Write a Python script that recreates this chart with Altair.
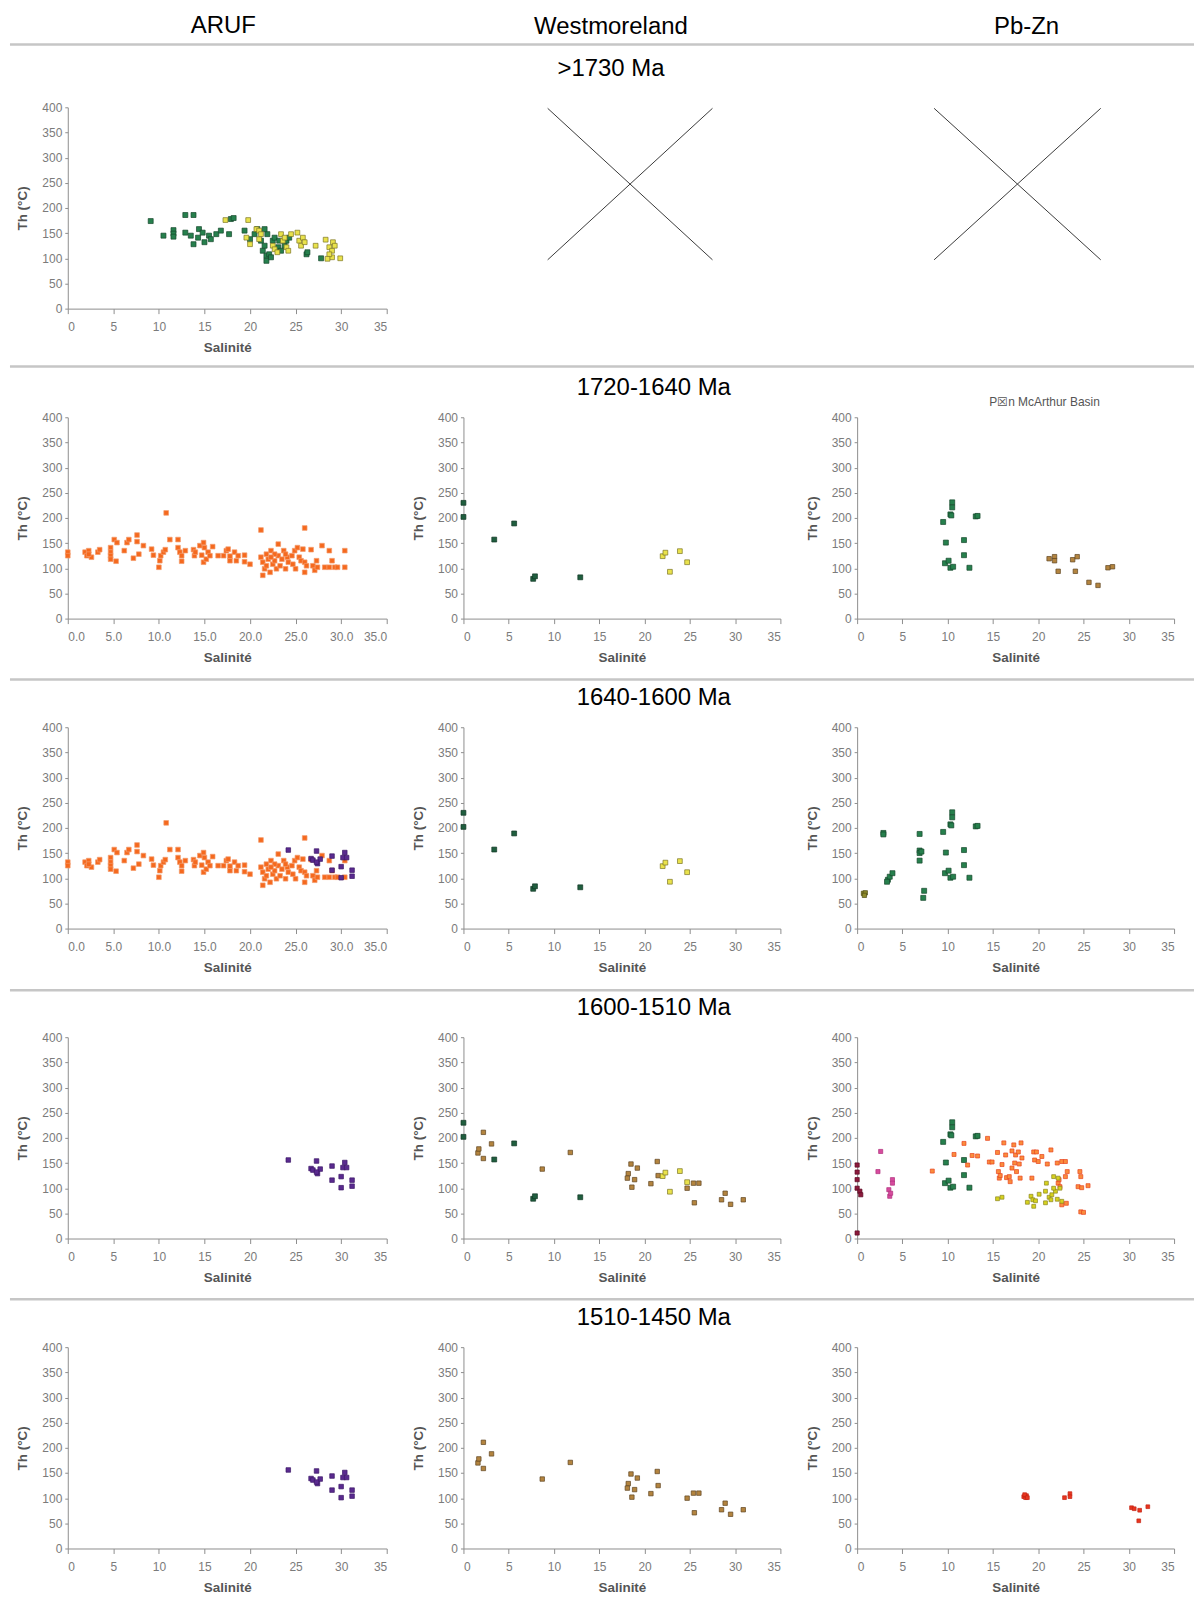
import altair as alt
import pandas as pd

# ---------------- data (Salinité, Th °C) ----------------
X_TICKS = [0, 5, 10, 15, 20, 25, 30, 35]
Y_TICKS = [0, 50, 100, 150, 200, 250, 300, 350, 400]

COLUMNS = ["ARUF", "Westmoreland", "Pb-Zn"]
ROWS = [">1730 Ma", "1720-1640 Ma", "1640-1600 Ma", "1600-1510 Ma", "1510-1450 Ma"]

# ARUF, >1730 Ma
ARUF_VERT_SAL = [9.1, 10.5, 11.6, 11.6, 11.6, 12.9, 12.9, 13.8, 13.5, 13.8, 14.3, 14.4, 14.8, 15.0, 15.5,
                 15.7, 16.3, 16.8, 17.7, 17.9, 18.2, 19.4, 20.0, 20.5, 20.8, 21.2, 21.4, 21.6, 21.8, 21.8,
                 22.1, 22.3, 22.5, 22.7, 23.1, 23.4, 23.8, 24.0, 24.3, 26.2, 26.3, 27.8, 21.9, 21.6, 23.2]
ARUF_VERT_TH = [174, 145, 156, 149, 143, 186, 151, 186, 145, 128, 141, 158, 151, 132, 145,
                138, 148, 155, 148, 178, 180, 155, 138, 148, 158, 135, 115, 125, 105, 95,
                108, 102, 135, 141, 122, 115, 125, 135, 141, 108, 112, 100, 148, 158, 135]
ARUF_JAUNE_SAL = [17.3, 19.8, 19.6, 20.0, 20.7, 21.0, 21.2, 21.0, 22.5, 22.7, 23.0, 23.4, 23.6, 23.8, 24.0,
                  24.2, 24.5, 25.2, 25.4, 25.6, 25.8, 26.0, 27.2, 28.3, 28.7, 29.0, 29.0, 29.1, 29.3, 28.7,
                  29.9, 28.5]
ARUF_JAUNE_TH = [176, 176, 141, 128, 158, 155, 148, 138, 125, 118, 112, 148, 135, 141, 122,
                 115, 148, 151, 135, 125, 141, 132, 125, 137, 122, 115, 102, 132, 125, 108,
                 100, 99]

# ARUF, 1720-1600 Ma
ARUF_ORANGE_SAL = [0.0, 0.0, 1.9, 2.1, 2.3, 2.6, 2.3, 3.3, 3.5, 4.7, 4.7, 4.7, 4.7, 5.1, 5.3, 5.4, 6.2, 6.5,
                   6.7, 7.2, 7.6, 7.6, 7.8, 8.3, 9.2, 9.4, 10.0, 10.1, 10.2, 10.5, 10.7, 10.8, 11.2, 12.1,
                   12.1, 12.3, 12.5, 12.5, 12.9, 13.8, 13.9, 14.0, 14.5, 14.7, 14.9, 14.9, 15.2, 15.0, 15.4,
                   15.6, 15.9, 16.5, 17.1, 17.4, 17.6, 17.8, 17.8, 18.3, 18.5, 18.7, 19.4, 19.4, 20.0, 21.2,
                   21.2, 21.4, 21.4, 21.6, 21.8, 22.0, 22.2, 22.3, 22.5, 22.7, 22.9, 23.1, 23.1, 23.3, 23.5,
                   23.7, 23.9, 24.1, 24.2, 24.6, 24.7, 24.9, 25.0, 25.2, 25.4, 25.6, 25.8, 26.0, 26.0, 26.0,
                   26.2, 26.7, 26.9, 27.1, 27.3, 27.4, 27.9, 28.2, 28.7, 28.7, 29.0, 29.3, 29.6, 30.4, 30.4,
                   21.8, 22.7, 23.9, 22.3]
ARUF_ORANGE_TH = [132, 125, 132, 125, 135, 122, 128, 132, 137, 141, 132, 125, 118, 157, 114, 151, 135, 151,
                  157, 120, 166, 153, 128, 145, 138, 126, 102, 115, 125, 132, 137, 210, 157, 157,
                  141, 132, 125, 114, 135, 137, 125, 132, 145, 126, 151, 112, 118, 141, 132,
                  125, 143, 125, 125, 135, 138, 115, 124, 132, 115, 125, 126, 113, 108, 176,
                  122, 86, 112, 99, 105, 118, 92, 135, 108, 115, 99, 148, 125, 105, 118,
                  135, 99, 122, 112, 125, 108, 135, 99, 141, 122, 115, 138, 180, 92, 112,
                  105, 137, 105, 96, 115, 102, 145, 102, 135, 102, 115, 102, 102, 135, 102,
                  128, 128, 128, 122]
ARUF_VIOLET_SAL = [24.2, 26.7, 26.9, 27.3, 27.4, 27.7, 27.3, 29.0, 29.0, 30.0, 30.0, 30.2, 30.4, 30.6, 31.2, 31.2]
ARUF_VIOLET_TH = [156, 139, 136, 154, 129, 138, 132, 144, 116, 123, 101, 141, 151, 141, 116, 104]

# Westmoreland
WM_VERT_SAL = [0.0, 0.0, 3.4, 5.6, 7.7, 7.9, 12.9]
WM_VERT_TH = [230, 202, 157, 189, 79, 84, 82]
WM_JAUNE_SAL = [22.0, 22.3, 22.8, 23.9, 24.7]
WM_JAUNE_TH = [124, 131, 93, 134, 112]
WM_BRUN_SAL = [1.6, 1.7, 2.2, 2.2, 3.1, 8.7, 11.8, 18.5, 18.2, 18.1, 18.9, 19.2, 18.6, 20.7, 21.5, 21.4,
               24.7, 25.4, 26.0, 25.5, 28.5, 28.9, 29.5, 30.9]
WM_BRUN_TH = [170, 178, 211, 159, 188, 138, 171, 148, 129, 120, 117, 140, 102, 109, 125, 153,
              100, 110, 110, 71, 77, 90, 68, 77]

# Pb-Zn
PBZN_VERT_SAL = [9.5, 9.8, 9.7, 10.1, 10.3, 10.4, 10.5, 10.5, 10.3, 10.6, 11.8, 11.8, 12.4, 13.1, 13.3]
PBZN_VERT_TH = [192, 151, 110, 115, 207, 205, 231, 221, 101, 103, 156, 126, 101, 203, 204]
PBZN_VERT2_SAL = [2.9, 2.9, 3.4, 3.6, 3.9, 3.3, 6.9, 6.9, 6.9, 7.1, 6.9, 7.4, 7.3]
PBZN_VERT2_TH = [190, 187, 97, 103, 110, 93, 188, 155, 150, 153, 135, 75, 61]
PBZN_OLIVE_SAL = [0.7, 0.9, 0.8]
PBZN_OLIVE_TH = [70, 71, 66]
PBZN_BRUN_SAL = [21.2, 21.8, 21.8, 22.2, 23.8, 24.3, 24.1, 25.6, 26.6, 27.7, 28.2]
PBZN_BRUN_TH = [119, 123, 115, 94, 117, 123, 94, 72, 66, 101, 103]
PBZN_BORDEAUX_SAL = [0.0, 0.0, 0.0, 0.0, 0.0, 0.3, 0.4]
PBZN_BORDEAUX_TH = [146, 132, 117, 100, 11, 94, 87]
PBZN_ROSE_SAL = [2.3, 2.6, 3.9, 3.9, 3.5, 3.6, 3.7]
PBZN_ROSE_TH = [133, 173, 117, 110, 97, 84, 90]
PBZN_ORANGE_SAL = [8.3, 10.7, 11.8, 12.2, 12.7, 13.3, 14.4, 14.6, 14.9, 15.5, 15.6, 15.7, 15.8, 16.0, 16.2,
                   16.4, 16.5, 16.8, 16.9, 17.1, 17.1, 17.3, 17.4, 17.5, 17.6, 17.8, 17.9, 18.0, 18.1, 18.2,
                   19.3, 19.5, 19.6, 19.8, 20.0, 20.4, 21.0, 21.4, 22.1, 22.6, 23.0, 23.0, 23.2, 22.2, 22.4,
                   22.6, 23.1, 24.6, 24.7, 24.4, 24.8, 24.7, 25.0, 25.5, 22.3]
PBZN_ORANGE_TH = [134, 167, 189, 146, 165, 164, 199, 152, 152, 171, 133, 120, 125, 147, 190,
                  166, 121, 123, 113, 140, 174, 186, 150, 166, 133, 172, 148, 120, 190, 160,
                  120, 172, 156, 172, 153, 163, 148, 176, 150, 153, 153, 123, 133, 110, 103,
                  67, 70, 133, 123, 103, 101, 53, 52, 105, 117]
PBZN_JAUNE_SAL = [15.5, 16.0, 18.8, 19.2, 19.4, 19.5, 19.7, 20.1, 20.8, 20.9, 21.2, 21.4, 21.5, 21.7, 21.9,
                  22.1, 22.2, 22.4, 22.6, 21.7, 20.8]
PBZN_JAUNE_TH = [79, 82, 72, 84, 77, 64, 75, 88, 94, 110, 82, 77, 87, 123, 94,
                 78, 120, 100, 74, 100, 71]
PBZN_ROUGE_SAL = [18.4, 18.6, 18.7, 18.5, 18.8, 22.9, 23.5, 23.5, 30.3, 30.6, 31.2, 31.1, 32.1]
PBZN_ROUGE_TH = [103, 101, 105, 107, 101, 101, 109, 103, 81, 79, 76, 55, 83]

# the two crossed-out panels (no data)
CROIX_WM_SAL = [9.3, 27.5]
CROIX_PBZN_SAL = [8.5, 26.9]
CROIX_TH = [97, 398]

# ---------------- styles ----------------
SERIES = ["vert", "vertwm", "jaune", "orange", "violet", "brun", "olive",
          "bordeaux", "rose", "orangevif", "jaunevert", "rouge"]
FILLS = ["#26804d", "#1f5e3e", "#e9e24c", "#f5691e", "#5a2a8f", "#b3843f", "#8d8a2a",
         "#8c1a3c", "#d64b9e", "#fa8c3c", "#d6d21e", "#e8351f"]
STROKES = ["#16472b", "#123624", "#7c7424", "#f39a6a", "#3b1766", "#5d4421", "#4f4d16",
           "#5e0f27", "#b0307c", "#e8421e", "#8a8420", "#c42414"]
SIZES = [25, 14, 28, 25, 27, 22, 14, 12, 8, 20, 14, 14]

FONT = "Liberation Sans"
PW = 318
PW_ARUF = 320
PH = 202


def make_df(series):
    frames = [pd.DataFrame({"sal": xs, "th": ys, "serie": name}) for name, xs, ys in series]
    return pd.concat(frames, ignore_index=True)


def scatter(series, width, fmt="d", title=None):
    df = make_df(series)
    ch = alt.Chart(df).mark_square(filled=True, strokeWidth=0.7, opacity=1).encode(
        x=alt.X("sal:Q", scale=alt.Scale(domain=[0, 35], nice=False),
                axis=alt.Axis(values=X_TICKS, format=fmt, title="Salinité")),
        y=alt.Y("th:Q", scale=alt.Scale(domain=[0, 400], nice=False),
                axis=alt.Axis(values=Y_TICKS, format="d", title="Th (°C)")),
        fill=alt.Fill("serie:N", scale=alt.Scale(domain=SERIES, range=FILLS), legend=None),
        stroke=alt.Stroke("serie:N", scale=alt.Scale(domain=SERIES, range=STROKES), legend=None),
        size=alt.Size("serie:N", scale=alt.Scale(domain=SERIES, range=SIZES), legend=None),
    ).properties(width=width, height=PH)
    if title is not None:
        ch = ch.properties(title=title)
    return ch


def separator(dy):
    return alt.Chart(pd.DataFrame({"k": [0]})).mark_rule(color="#c6c6c6", strokeWidth=2.5).encode(
        x=alt.value(-58), x2=alt.value(1130), y=alt.value(dy))


def cross(xs, title):
    df = pd.DataFrame({"x": [xs[0], xs[0]], "y": [CROIX_TH[1], CROIX_TH[0]],
                       "x2": [xs[1], xs[1]], "y2": [CROIX_TH[0], CROIX_TH[1]]})
    return alt.Chart(df).mark_rule(color="#3a3a3a", strokeWidth=1).encode(
        x=alt.X("x:Q", scale=alt.Scale(domain=[0, 35], nice=False), axis=None),
        y=alt.Y("y:Q", scale=alt.Scale(domain=[0, 400], nice=False), axis=None),
        x2="x2:Q", y2="y2:Q",
    ).properties(width=PW, height=PH, title=title)


def head(text, dx, offset):
    return alt.TitleParams(text=text, dx=dx, offset=offset, anchor="middle", fontSize=24,
                           font=FONT, fontWeight="normal", color="#000000", lineHeight=43)


def row_title(text):
    return head(text, 32, 11)


panels = []
# row 1
panels.append(alt.layer(
    scatter([("vert", ARUF_VERT_SAL, ARUF_VERT_TH), ("jaune", ARUF_JAUNE_SAL, ARUF_JAUNE_TH)], PW_ARUF),
    separator(-63)).properties(title=head(COLUMNS[0], -4, 5)))
panels.append(cross(CROIX_WM_SAL, head([COLUMNS[1], ROWS[0]], -11, 26)))
panels.append(cross(CROIX_PBZN_SAL, head(COLUMNS[2], 11, 69)))
# row 2
panels.append(alt.layer(scatter([("orange", ARUF_ORANGE_SAL, ARUF_ORANGE_TH)], PW_ARUF, fmt=".1f"),
                        separator(-51)))
panels.append(scatter([("vertwm", WM_VERT_SAL, WM_VERT_TH), ("jaune", WM_JAUNE_SAL, WM_JAUNE_TH)], PW,
                      title=row_title(ROWS[1])))
panels.append(scatter([("vert", PBZN_VERT_SAL, PBZN_VERT_TH), ("brun", PBZN_BRUN_SAL, PBZN_BRUN_TH)], PW,
                      title=alt.TitleParams(text="P☒n McArthur Basin", dx=29, offset=2, anchor="middle",
                                            fontSize=12, font=FONT, fontWeight="normal", color="#555555")))
# row 3
panels.append(alt.layer(scatter([("orange", ARUF_ORANGE_SAL, ARUF_ORANGE_TH),
                                 ("violet", ARUF_VIOLET_SAL, ARUF_VIOLET_TH)], PW_ARUF, fmt=".1f"),
                        separator(-48)))
panels.append(scatter([("vertwm", WM_VERT_SAL, WM_VERT_TH), ("jaune", WM_JAUNE_SAL, WM_JAUNE_TH)], PW,
                      title=row_title(ROWS[2])))
panels.append(scatter([("olive", PBZN_OLIVE_SAL, PBZN_OLIVE_TH), ("vert", PBZN_VERT2_SAL, PBZN_VERT2_TH),
                       ("vert", PBZN_VERT_SAL, PBZN_VERT_TH)], PW))
# row 4
panels.append(alt.layer(scatter([("violet", ARUF_VIOLET_SAL, ARUF_VIOLET_TH)], PW_ARUF), separator(-47)))
panels.append(scatter([("vertwm", WM_VERT_SAL, WM_VERT_TH), ("brun", WM_BRUN_SAL, WM_BRUN_TH),
                       ("jaune", WM_JAUNE_SAL, WM_JAUNE_TH)], PW, title=row_title(ROWS[3])))
panels.append(scatter([("bordeaux", PBZN_BORDEAUX_SAL, PBZN_BORDEAUX_TH), ("rose", PBZN_ROSE_SAL, PBZN_ROSE_TH),
                       ("vert", PBZN_VERT_SAL, PBZN_VERT_TH), ("orangevif", PBZN_ORANGE_SAL, PBZN_ORANGE_TH),
                       ("jaunevert", PBZN_JAUNE_SAL, PBZN_JAUNE_TH)], PW))
# row 5
panels.append(alt.layer(scatter([("violet", ARUF_VIOLET_SAL, ARUF_VIOLET_TH)], PW_ARUF), separator(-48)))
panels.append(scatter([("brun", WM_BRUN_SAL, WM_BRUN_TH)], PW, title=row_title(ROWS[4])))
panels.append(scatter([("rouge", PBZN_ROUGE_SAL, PBZN_ROUGE_TH)], PW))

chart = alt.concat(*panels, columns=3, spacing={"row": 109, "column": 77}, bounds="flush").properties(
    padding={"left": 8, "top": 11, "right": 0, "bottom": 0},
    background="white",
).configure_view(stroke=None).configure_axis(
    domainColor="#8e8e8e", tickColor="#8e8e8e", labelColor="#7b7b7b", labelFont=FONT, labelFontSize=12,
    titleFont=FONT, titleFontSize=13.5, titleFontWeight="bold", titleColor="#555555", grid=False,
).configure_axisX(tickSize=5, labelPadding=8, titlePadding=8).configure_axisY(
    tickSize=3, labelPadding=3, titlePadding=12
).configure_title(font=FONT)

chart.save("out.html", embed_options={"renderer": "svg", "actions": False})
